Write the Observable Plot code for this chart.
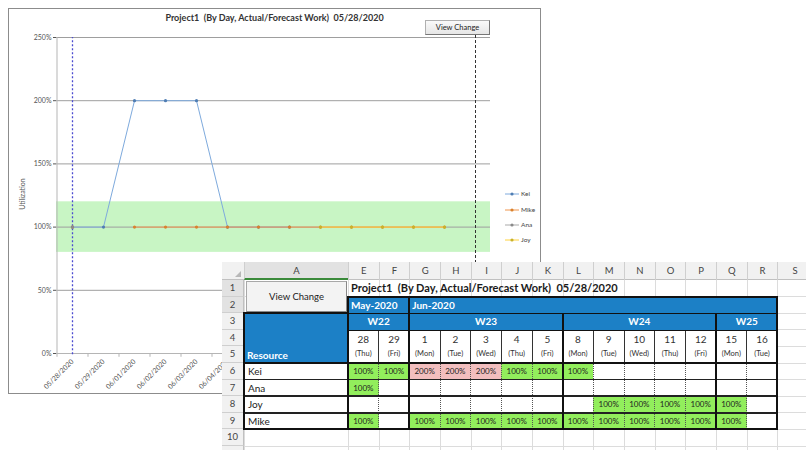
<!DOCTYPE html>
<html><head><meta charset="utf-8">
<script src="https://cdn.jsdelivr.net/npm/d3@7"></script>
<script src="https://cdn.jsdelivr.net/npm/@observablehq/plot@0.6"></script>
<style>
html,body{margin:0;padding:0;background:#fff;}
body{width:806px;height:450px;position:relative;overflow:hidden;font-family:Lato,"Noto Sans",sans-serif;}
#chart{position:absolute;left:8px;top:8px;width:533px;height:386px;border:1px solid #8c8c8c;box-sizing:border-box;background:#fff;z-index:1;}
#chart svg{position:absolute;left:0;top:0;}
#ctitle{position:absolute;left:0;top:3px;width:531px;text-align:center;font-size:9px;font-weight:bold;color:#333;white-space:pre;}
#cbtn{position:absolute;left:416px;top:11px;width:65px;height:15px;box-sizing:border-box;background:linear-gradient(#fafafa,#e6e6e6);border:1px solid #b0b0b0;border-right-color:#777;border-bottom-color:#777;font-size:7.5px;line-height:13px;text-align:center;color:#222;}
#ylab{position:absolute;left:-12px;top:181px;width:50px;text-align:center;font-size:7px;color:#555;transform:rotate(-90deg);}
.leg{position:absolute;left:496px;font-size:6.5px;color:#444;height:10px;line-height:10px;white-space:nowrap;}
.leg svg{position:static !important;vertical-align:middle;}
#sheet{position:absolute;left:0;top:0;width:806px;height:450px;z-index:2;}
#sheet div{position:absolute;box-sizing:border-box;white-space:pre;}
</style></head>
<body>
<div id="chart">
  <div id="ctitle"></div>
  <div id="cbtn"></div>
  <div id="ylab"></div>
</div>
<div id="sheet"></div>
<script>
// ---------- data ----------
const dates = ["05/28/2020","05/29/2020","06/01/2020","06/02/2020","06/03/2020","06/04/2020","06/05/2020","06/08/2020","06/09/2020","06/10/2020","06/11/2020","06/12/2020","06/15/2020","06/16/2020"];
const dayNums = [28,29,1,2,3,4,5,8,9,10,11,12,15,16];
const weekdays = ["Thu","Fri","Mon","Tue","Wed","Thu","Fri","Mon","Tue","Wed","Thu","Fri","Mon","Tue"];
const months = ["May-2020","Jun-2020"];
const monthSpans = [2,12];
const weeks = ["W22","W23","W24","W25"];
const weekSpans = [2,5,5,2];
const kei  = [100,100,200,200,200,100,100,100,null,null,null,null,null,null];
const ana  = [100,null,null,null,null,null,null,null,null,null,null,null,null,null];
const joy  = [null,null,null,null,null,null,null,null,100,100,100,100,100,null];
const mike = [100,null,100,100,100,100,100,100,100,100,100,100,100,null];
const seriesNames = ["Kei","Mike","Ana","Joy"];
const sheetResources = ["Kei","Ana","Joy","Mike"];
const yTicks = [0,50,100,150,200,250];
const targetBand = [80,120];
const colLetters = ["A","E","F","G","H","I","J","K","L","M","N","O","P","Q","R","S"];
const rowNumbers = [1,2,3,4,5,6,7,8,9,10];
const chartTitle = "Project1  (By Day, Actual/Forecast Work)  05/28/2020";
const sheetTitle = "Project1  (By Day, Actual/Forecast Work)  05/28/2020";
const yLabel = "Utilization";
const buttonText = "View Change";
const resourceHeader = "Resource";

const valuesBy = {Kei: kei, Mike: mike, Ana: ana, Joy: joy};
const lineColor = {Kei:"#7eaadd", Mike:"#f0954c", Ana:"#a9a9a9", Joy:"#ffd23c"};
const dotColor  = {Kei:"#4f7db3", Mike:"#d9822e", Ana:"#8a8a8a", Joy:"#c9b22a"};

// ---------- chart ----------
document.getElementById("ctitle").textContent = chartTitle;
document.getElementById("ylab").textContent = yLabel;
document.getElementById("cbtn").textContent = buttonText;

const rows = seriesNames.flatMap(name => valuesBy[name].map((v,i) => ({name, date: dates[i], value: v})));
const half = 15.5;
const marks = [
  Plot.rectY([{y1: targetBand[0], y2: targetBand[1]}], {y1:"y1", y2:"y2", fill:"#c8f5c4"}),
  Plot.ruleY(yTicks.filter(d => d > 0), {stroke:"#9e9e9e", strokeWidth:1}),
  Plot.ruleY([0], {stroke:"#b5b5b5"}),
  Plot.ruleX([dates[0]], {y1:0, y2:250, dx:-half, stroke:"#b5b5b5"}),
  Plot.ruleX(dates, {y1:0, y2:-3, dx:-half, stroke:"#b5b5b5"}),
  Plot.ruleX([dates[dates.length-1]], {y1:0, y2:-3, dx:half, stroke:"#b5b5b5"}),
  Plot.ruleX([dates[0]], {y1:-1, y2:250, stroke:"#4a4ad0", strokeWidth:1.3, strokeDasharray:"2,2"}),
  Plot.ruleX([dates[dates.length-1]], {y1:0, y2:255, stroke:"#333", strokeWidth:1, strokeDasharray:"3,2"})
];
for (const name of seriesNames) {
  const data = rows.filter(d => d.name === name);
  marks.push(Plot.line(data, {x:"date", y:"value", stroke: lineColor[name], strokeWidth:1}));
  marks.push(Plot.dot(data.filter(d => d.value != null), {x:"date", y:"value", r:1.6, fill: dotColor[name], stroke:"none"}));
}
marks.push(Plot.axisY({ticks: yTicks, tickFormat: d => d + "%", tickSize: 3, tickPadding: 2, fontSize: 7, color:"#555", label: null}));
marks.push(Plot.axisX({tickRotate: -45, tickSize: 0, tickPadding: 7, fontSize: 7, color:"#555", label: null}));

const plot = Plot.plot({
  width: 531, height: 384,
  marginLeft: 47, marginRight: 50, marginTop: 28, marginBottom: 40,
  x: {type: "point", domain: dates, padding: 0.5},
  y: {domain: [0, 250]},
  style: {fontFamily: "Lato, 'Noto Sans', sans-serif", background: "transparent", overflow: "visible"},
  marks
});
document.getElementById("chart").prepend(plot);

// legend
const legY = [180, 196, 211, 226];
seriesNames.forEach((name, i) => {
  const d = document.createElement("div");
  d.className = "leg";
  d.style.top = legY[i] + "px";
  d.innerHTML = `<svg width="14" height="6" style="margin-right:2px"><line x1="0" y1="3" x2="14" y2="3" stroke="${lineColor[name]}" stroke-width="1"/><circle cx="7" cy="3" r="1.6" fill="${dotColor[name]}"/></svg>`;
  d.appendChild(document.createTextNode(name));
  document.getElementById("chart").appendChild(d);
});

// ---------- spreadsheet ----------
const S = document.getElementById("sheet");
function el(x, y, w, h, css, text) {
  const d = document.createElement("div");
  d.style.left = x + "px"; d.style.top = y + "px"; d.style.width = w + "px"; d.style.height = h + "px";
  if (css) d.style.cssText += css;
  if (text != null) d.textContent = text;
  S.appendChild(d);
  return d;
}
const X_RH = 222, X_A = 244, X_E = 348, DW = 30.67, X_S = X_E + 14 * DW, X_END = 812;
const Y_H = 262, Y_1 = 280, RH = 16.6;
const colX = i => X_E + i * DW;
const rowY = r => Y_1 + (r - 1) * RH;
const BLUE = "#1c80c6", GREEN = "#92ee5c", PINK = "#f2bebe";

// background
el(X_RH, Y_H, 806 - X_RH, 450 - Y_H, "background:#fff;border-left:1px solid #c8c8c8;border-top:1px solid #c8c8c8;");
// light grid
const vEdges = [X_A, X_E]; for (let i = 1; i <= 14; i++) vEdges.push(colX(i));
vEdges.forEach(x => el(x, Y_1, 1, 450 - Y_1, "background:#dcdcdc;"));
rowNumbers.forEach(r => el(X_A, rowY(r) + RH - 0.5, X_END - X_A, 1, "background:#dcdcdc;"));
// column header
el(X_RH, Y_H, X_END - X_RH, Y_1 - Y_H, "background:#f1f1f1;border-bottom:1px solid #c0c0c0;");
const colLefts = [X_A, X_E]; for (let i = 1; i <= 14; i++) colLefts.push(colX(i));
const colWidths = [X_E - X_A]; for (let i = 0; i < 14; i++) colWidths.push(DW); colWidths.push(X_END - X_S);
colLetters.forEach((c, i) => {
  el(colLefts[i], Y_H, colWidths[i], Y_1 - Y_H, `border-left:1px solid #cfcfcf;font-size:9.5px;color:#444;text-align:center;line-height:${Y_1-Y_H}px;` + (i === 0 ? "background:#e2e2e2;border-bottom:2px solid #3a8a3a;" : ""), c);
});
// corner triangle
el(X_RH + 13, Y_H + 9, 0, 0, "border-left:6px solid transparent;border-bottom:6px solid #b8b8b8;width:0;height:0;");
// row header column
el(X_RH, Y_1, X_A - X_RH, 450 - Y_1, "background:#f1f1f1;border-right:1px solid #c0c0c0;");
rowNumbers.forEach(r => {
  el(X_RH, rowY(r), X_A - X_RH, RH, `background:${r<=2?'#e2e2e2':'#f1f1f1'};border-bottom:1px solid #cfcfcf;border-right:1px solid #c0c0c0;font-size:9.5px;color:#444;text-align:center;line-height:${RH}px;`, String(r));
});
// A1:A2 button
el(X_A + 2, rowY(1) + 1, X_E - X_A - 3, 2 * RH - 2, "background:#f3f3f3;border:1px solid #a8a8a8;border-right-color:#888;border-bottom-color:#888;font-size:9.5px;color:#222;text-align:center;line-height:" + (2*RH-4) + "px;", buttonText);
// row 1 title
el(X_E + 3, rowY(1), 300, RH, `font-size:11px;font-weight:bold;color:#1a1a1a;line-height:${RH}px;`, sheetTitle);
// blue header fills
el(X_E, rowY(2), 14 * DW, 2 * RH, `background:${BLUE};`);
el(X_A, rowY(3), X_E - X_A, 3 * RH, `background:${BLUE};`);
el(X_A + 3, rowY(5), 100, RH, `font-size:10px;font-weight:bold;color:#fff;line-height:${RH+2}px;`, resourceHeader);
// months
let acc = 0;
months.forEach((m, i) => {
  el(colX(acc) + 3, rowY(2), monthSpans[i] * DW, RH, `font-size:10px;font-weight:bold;color:#fff;line-height:${RH}px;`, m);
  acc += monthSpans[i];
});
// weeks
acc = 0;
const weekStarts = [];
weeks.forEach((w, i) => {
  weekStarts.push(acc);
  el(colX(acc), rowY(3), weekSpans[i] * DW, RH, `font-size:10px;font-weight:bold;color:#fff;text-align:center;line-height:${RH}px;`, w);
  acc += weekSpans[i];
});
// day numbers and weekdays
dates.forEach((d, i) => {
  el(colX(i), rowY(4), DW, RH, `font-size:10px;color:#333;text-align:center;line-height:${RH+2}px;background:#fff;`, String(dayNums[i]));
  el(colX(i), rowY(5), DW, RH, `font-size:7.5px;color:#333;text-align:center;line-height:${RH}px;background:#fff;`, "(" + weekdays[i] + ")");
});
// resources and values
sheetResources.forEach((name, j) => {
  const r = 6 + j;
  el(X_A, rowY(r), X_E - X_A, RH, `background:#fff;font-size:10px;color:#222;padding-left:4px;line-height:${RH}px;`, name);
  valuesBy[name].forEach((v, i) => {
    if (v == null) { el(colX(i), rowY(r), DW, RH, "background:#fff;"); return; }
    el(colX(i), rowY(r), DW, RH, `background:${v > 100 ? PINK : GREEN};font-size:8px;color:#222;text-align:center;line-height:${RH}px;`, v + "%");
  });
});
// borders: thin solid verticals rows 4-5, dotted in data rows
for (let i = 1; i < 14; i++) {
  el(colX(i) - 0.5, rowY(4), 1, 2 * RH, "background:#333;");
  el(colX(i) - 0.5, rowY(6), 0, 4 * RH, "border-left:1px dotted #555;");
}
// horizontal lines
el(X_E, rowY(3), 14 * DW, 1, "background:#111;");
el(X_E, rowY(4), 14 * DW, 1.5, "background:#111;");
el(X_A, rowY(6) - 1, X_S - X_A, 2, "background:#111;");
[7, 8, 9].forEach(r => el(X_A, rowY(r) - 0.75, X_S - X_A, 1.5, "background:#222;"));
// thick verticals
el(X_E - 1, rowY(2), 2, 8 * RH, "background:#111;");
weekStarts.slice(1).forEach(s => el(colX(s) - 1, (s === 2 ? rowY(2) : rowY(3)), 2, (s === 2 ? 8 : 7) * RH, "background:#111;"));
// outer outline
el(X_E - 1, rowY(2) - 1, X_S - X_E + 2, 2, "background:#111;");
el(X_A - 1, rowY(3) - 1, X_E - X_A + 1, 2, "background:#111;");
el(X_A - 1, rowY(3) - 1, 2, 7 * RH + 2, "background:#111;");
el(X_S - 1, rowY(2) - 1, 2, 8 * RH + 2, "background:#111;");
el(X_A - 1, rowY(10) - 1, X_S - X_A + 2, 2, "background:#111;");
</script>
</body></html>
